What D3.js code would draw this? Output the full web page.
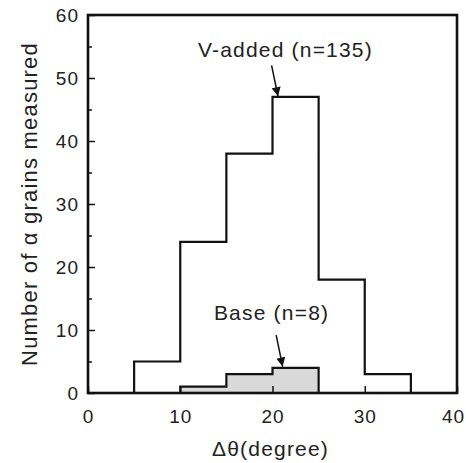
<!DOCTYPE html>
<html>
<head>
<meta charset="utf-8">
<script src="https://cdn.jsdelivr.net/npm/d3@7"></script>
<style>
  body { margin: 0; background: #fff; }
  svg text { font-family: "Liberation Sans", Arial, Helvetica, sans-serif; fill: #222; }
</style>
</head>
<body>
<div id="chart"></div>
<script>
// bin edges (degree) and counts
const vEdges = [5, 10, 15, 20, 25, 30, 35];
const vCounts = [5, 24, 38, 47, 18, 3];
const baseEdges = [10, 15, 20, 25];
const baseCounts = [1, 3, 4];

const xTicks = [0, 10, 20, 30, 40];
const yTicks = [0, 10, 20, 30, 40, 50, 60];
const yMinor = [5, 15, 25, 35, 45, 55];

const width = 466, height = 463;
const x = d3.scaleLinear().domain([0, 40]).range([88, 457]);
const y = d3.scaleLinear().domain([0, 60]).range([393, 15]);

const svg = d3.select('#chart').append('svg')
    .attr('width', width)
    .attr('height', height);

svg.append('defs').append('marker')
    .attr('id', 'arrow')
    .attr('viewBox', '0 0 10 10')
    .attr('refX', 10).attr('refY', 5)
    .attr('markerWidth', 10).attr('markerHeight', 9)
    .attr('markerUnits', 'userSpaceOnUse')
    .attr('orient', 'auto')
  .append('path')
    .attr('d', 'M0,0 L10,5 L0,10 Z')
    .attr('fill', '#111');

// turn bins into a step outline starting and ending on the baseline
function stepPoints(edges, counts) {
    const pts = [[edges[0], 0]];
    counts.forEach((c, i) => {
        pts.push([edges[i], c]);
        pts.push([edges[i + 1], c]);
    });
    pts.push([edges[edges.length - 1], 0]);
    return pts;
}

const line = d3.line().x(d => x(d[0])).y(d => y(d[1]));

svg.append('path')
    .attr('d', line(stepPoints(baseEdges, baseCounts)))
    .attr('fill', '#d9d9d9')
    .attr('stroke', '#111')
    .attr('stroke-width', 2.2);

svg.append('path')
    .attr('d', line(stepPoints(vEdges, vCounts)))
    .attr('fill', 'none')
    .attr('stroke', '#111')
    .attr('stroke-width', 2.2);

// axes, ticks pointing inward
svg.append('g')
    .attr('transform', `translate(${x(0)},0)`)
    .call(d3.axisLeft(y).tickValues(yTicks).tickSizeInner(-7).tickSizeOuter(0).tickPadding(9));
svg.append('g')
    .attr('transform', `translate(${x(0)},0)`)
    .call(d3.axisLeft(y).tickValues(yMinor).tickSizeInner(-4).tickSizeOuter(0).tickFormat(''));

svg.append('g')
    .attr('class', 'x-axis')
    .attr('transform', `translate(0,${y(0)})`)
    .call(d3.axisBottom(x).tickValues(xTicks).tickSizeInner(-7).tickSizeOuter(0).tickPadding(17));

svg.selectAll('.domain').remove();
svg.selectAll('.tick line').attr('stroke', '#111').attr('stroke-width', 1.5);
svg.selectAll('.tick text')
    .style('font-size', '19px')
    .style('letter-spacing', '1px')
    .attr('fill', '#222');
// last x label sits right at the page edge
svg.selectAll('.x-axis .tick text')
    .filter(d => d === 40)
    .attr('dx', -4);

// frame
svg.append('rect')
    .attr('x', x(0)).attr('y', y(60))
    .attr('width', x(40) - x(0))
    .attr('height', y(0) - y(60))
    .attr('fill', 'none')
    .attr('stroke', '#111')
    .attr('stroke-width', 2.6);

// axis titles
svg.append('text')
    .attr('x', (x(0) + x(40)) / 2 - 2)
    .attr('y', 456)
    .attr('text-anchor', 'middle')
    .style('font-size', '21px')
    .style('letter-spacing', '1.2px')
    .text('Δθ(degree)');

svg.append('text')
    .attr('transform', `translate(37,${(y(0) + y(60)) / 2}) rotate(-90)`)
    .attr('text-anchor', 'middle')
    .style('font-size', '22px')
    .style('letter-spacing', '1.2px')
    .text('Number of α grains measured');

// annotations
svg.append('text')
    .attr('x', x(21.4)).attr('y', y(53.3))
    .attr('text-anchor', 'middle')
    .style('font-size', '21px')
    .style('letter-spacing', '1.2px')
    .text('V-added (n=135)');
svg.append('line')
    .attr('x1', x(19.9)).attr('y1', y(52))
    .attr('x2', x(20.6)).attr('y2', y(47.1))
    .attr('stroke', '#111').attr('stroke-width', 1.5)
    .attr('marker-end', 'url(#arrow)');

svg.append('text')
    .attr('x', x(19.9)).attr('y', y(11.6))
    .attr('text-anchor', 'middle')
    .style('font-size', '21px')
    .style('letter-spacing', '1.2px')
    .text('Base (n=8)');
svg.append('line')
    .attr('x1', x(20.4)).attr('y1', y(9.2))
    .attr('x2', x(21.1)).attr('y2', y(4.2))
    .attr('stroke', '#111').attr('stroke-width', 1.5)
    .attr('marker-end', 'url(#arrow)');
</script>
</body>
</html>
